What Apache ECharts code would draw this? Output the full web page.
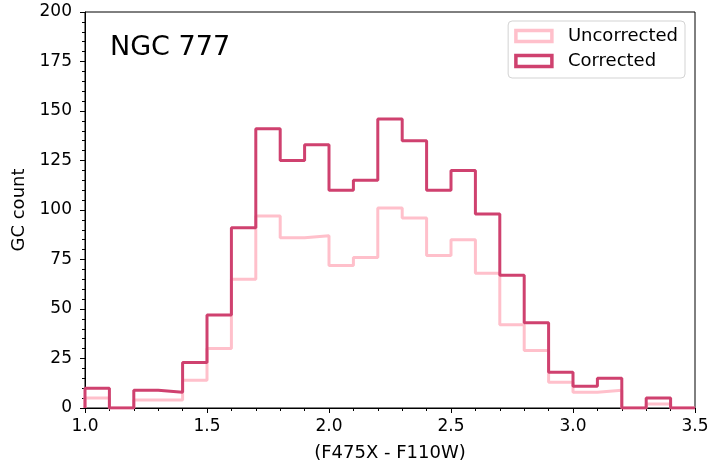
<!DOCTYPE html>
<html>
<head>
<meta charset="utf-8">
<script src="https://cdn.jsdelivr.net/npm/echarts@6/dist/echarts.min.js"></script>
<style>
  html, body { margin: 0; padding: 0; background: #fff; }
  #chart { width: 718px; height: 468px; }
</style>
</head>
<body>
<div id="chart"></div>
<script>
// bin edges (F475X - F110W), width 0.1
var edges = [1.0, 1.1, 1.2, 1.3, 1.4, 1.5, 1.6, 1.7, 1.8, 1.9, 2.0, 2.1, 2.2,
             2.3, 2.4, 2.5, 2.6, 2.7, 2.8, 2.9, 3.0, 3.1, 3.2, 3.3, 3.4, 3.5]
var uncorrected = [5, 0, 4, 4, 14, 30, 65, 97, 86, 87, 72, 76, 101,
                   96, 77, 85, 68, 42, 29, 13, 8, 9, 0, 2, 0]
var corrected = [10, 0, 9, 8, 23, 47, 91, 141, 125, 133, 110, 115, 146,
                 135, 110, 120, 98, 67, 43, 18, 11, 15, 0, 5, 0]
var xTicks = [1.0, 1.5, 2.0, 2.5, 3.0, 3.5]
var yTicks = [0, 25, 50, 75, 100, 125, 150, 175, 200]

var font = 'DejaVu Sans'
var pink = '#ffc0cb'
var rose = '#cf416f'

// step outline like matplotlib histtype="step"
function stepPoints(counts){
    var pts = [[edges[0], 0]]
    counts.forEach((c, i) => pts.push([edges[i], c]))
    pts.push([edges[edges.length - 1], counts[counts.length - 1]])
    pts.push([edges[edges.length - 1], 0])
    return pts
}

function series(name, counts, color){
    return {
        type: 'line',
        name: name,
        data: stepPoints(counts),
        step: 'end',
        showSymbol: false,
        symbol: 'none',
        clip: true,
        lineStyle: { color: color, width: 3 },
        itemStyle: { color: 'transparent', borderColor: color, borderWidth: 3 }
    }
}

var chart = echarts.init(document.getElementById('chart'), null, { renderer: 'canvas' })
chart.setOption({
    animation: false,
    backgroundColor: '#fff',
    grid: {
        left: 85, right: 23, top: 12, bottom: 60,
        show: true, borderColor: '#000', borderWidth: 1, backgroundColor: 'transparent'
    },
    title: {
        text: 'NGC 777',
        left: 110, top: 34, padding: 0,
        textStyle: { fontFamily: font, fontSize: 27, fontWeight: 'normal', color: '#000' }
    },
    legend: {
        right: 33, top: 21,
        orient: 'vertical',
        itemWidth: 36, itemHeight: 11,
        itemGap: 7,
        padding: [6, 7, 8, 6],
        borderColor: '#d3d3d3', borderWidth: 1, borderRadius: 4,
        backgroundColor: '#fff',
        icon: 'rect',
        textStyle: { fontFamily: font, fontSize: 18, color: '#000', padding: [0, 0, 0, 11] },
        data: [
            { name: 'Uncorrected', itemStyle: { color: 'transparent', borderColor: pink, borderWidth: 3.5 } },
            { name: 'Corrected', itemStyle: { color: 'transparent', borderColor: rose, borderWidth: 3.5 } }
        ]
    },
    xAxis: {
        type: 'value',
        min: 1.0, max: 3.5, interval: 0.5,
        name: '(F475X - F110W)',
        nameLocation: 'middle', nameGap: 36,
        nameTextStyle: { fontFamily: font, fontSize: 18, color: '#000' },
        axisLine: { show: true, onZero: false, lineStyle: { color: '#000', width: 1 } },
        axisTick: { show: true, inside: false, length: 5, lineStyle: { color: '#000' } },
        minorTick: { show: true, splitNumber: 5, length: 3, lineStyle: { color: '#000' } },
        splitLine: { show: false },
        axisLabel: {
            fontFamily: font, fontSize: 17, color: '#000', margin: 10,
            formatter: v => xTicks.indexOf(v) >= 0 ? v.toFixed(1) : ''
        }
    },
    yAxis: {
        type: 'value',
        min: 0, max: 200, interval: 25,
        name: 'GC count',
        nameLocation: 'middle', nameGap: 56, nameRotate: 90,
        nameTextStyle: { fontFamily: font, fontSize: 18, color: '#000' },
        axisLine: { show: true, lineStyle: { color: '#000', width: 1 } },
        axisTick: { show: true, inside: false, length: 5, lineStyle: { color: '#000' } },
        minorTick: { show: true, splitNumber: 5, length: 3, lineStyle: { color: '#000' } },
        splitLine: { show: false },
        axisLabel: {
            fontFamily: font, fontSize: 17, color: '#000', margin: 13,
            formatter: v => yTicks.indexOf(v) >= 0 ? String(v) : ''
        }
    },
    series: [
        series('Uncorrected', uncorrected, pink),
        series('Corrected', corrected, rose)
    ]
})
</script>
</body>
</html>
